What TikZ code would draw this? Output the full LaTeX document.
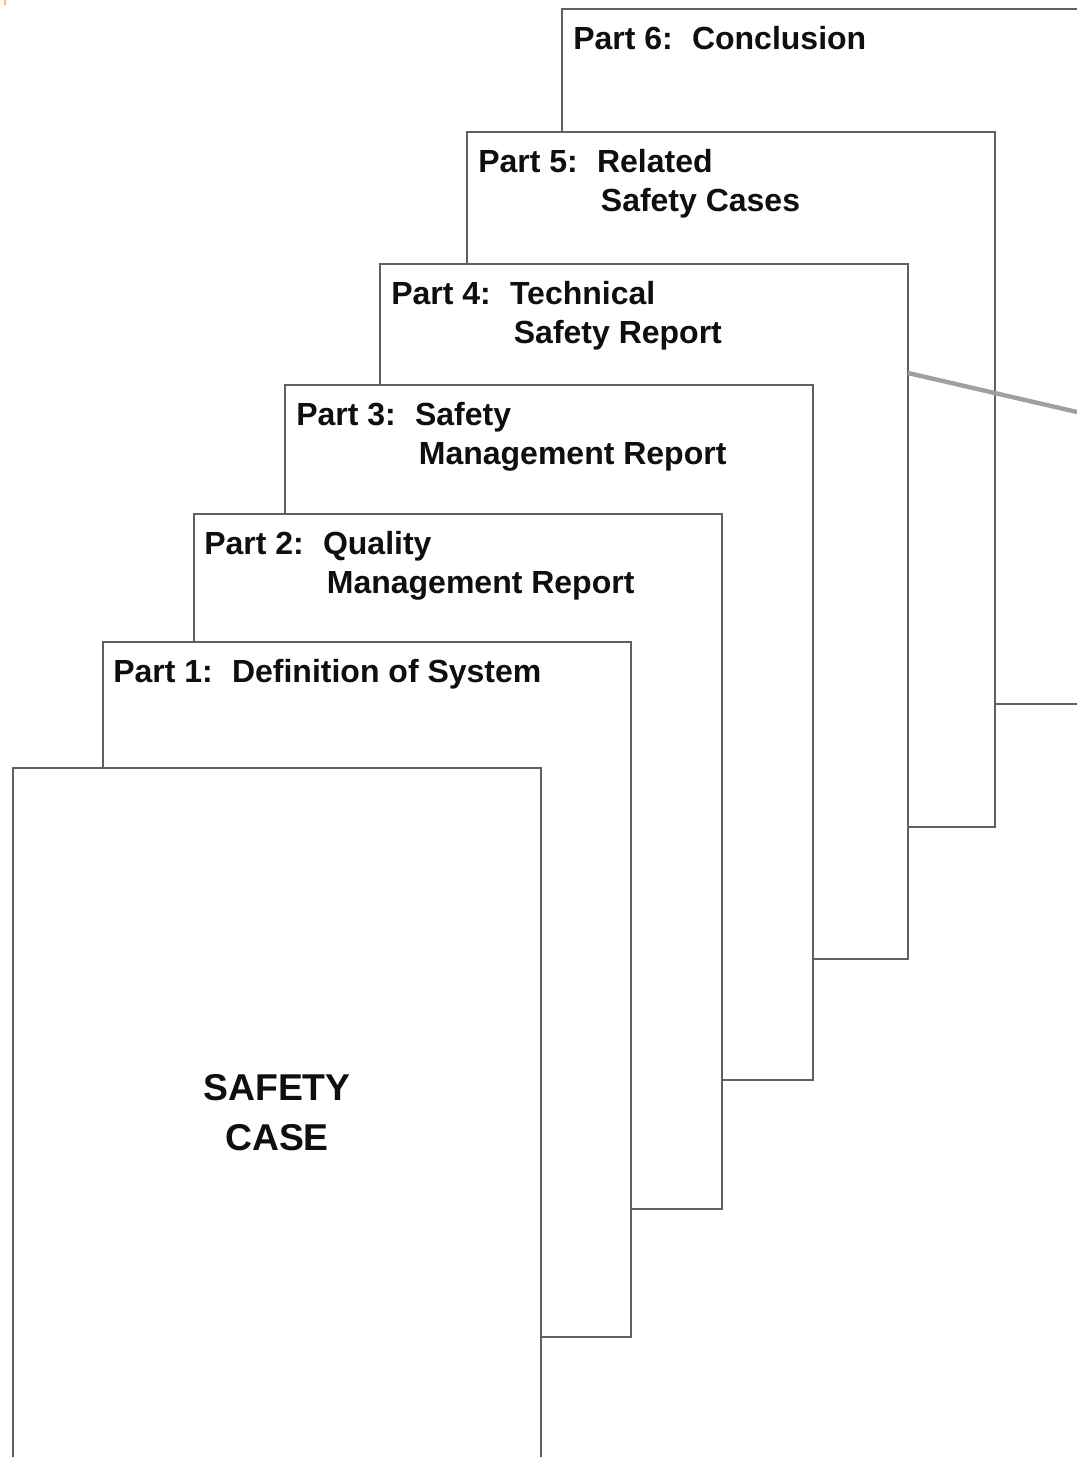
\documentclass[tikz,border=0pt]{standalone}
\usepackage{fontspec}
\setmainfont{Liberation Sans}
\definecolor{edgegray}{RGB}{95,95,95}
\definecolor{linegray}{RGB}{160,160,160}
\definecolor{textblack}{RGB}{15,15,15}
\definecolor{markorange}{RGB}{255,185,110}
\begin{document}
\begin{tikzpicture}[x=0.75pt,y=-0.75pt,
  pagebox/.style={draw=edgegray, line width=1.5pt, fill=white,
    minimum width=396pt, minimum height=521.25pt,
    anchor=north west, inner sep=0pt, outer sep=0pt},
  parttext/.style={anchor=base west, inner sep=0pt, text=textblack,
    font=\bfseries\fontsize{24}{29.25}\selectfont},
  titletext/.style={anchor=center, inner sep=0pt, text=textblack, align=center,
    font=\bfseries\fontsize{28}{37.5}\selectfont}]
\useasboundingbox (0,0) rectangle (1077,1457);
\fill[white] (0,0) rectangle (1077,1457);
\fill[markorange] (4,0) rectangle (6,5);

\newcommand{\parthead}[2]{\begin{tabular}[t]{@{}l@{\hspace{0.6em}}l@{}}#1 & #2\end{tabular}}
\newcommand{\nl}{\\ & \hspace{0.12em}}

% Part 6
\node[pagebox] (p6) at (562,9) {};
\node[parttext] (t6) at (573,49) {\parthead{Part 6:}{Conclusion}};
% Part 5
\node[pagebox] (p5) at (467,132) {};
\node[parttext] (t5) at (478,172) {\parthead{Part 5:}{Related\nl Safety Cases}};
% gray connector line
\coordinate (lineend) at (1090,415);
% Part 4
\node[pagebox] (p4) at (380,264) {};
\draw[linegray, line width=3.3pt] ([yshift=-81.75pt]p4.north east) -- (lineend);
\node[parttext] (t4) at (391,304) {\parthead{Part 4:}{Technical\nl Safety Report}};
% Part 3
\node[pagebox] (p3) at (285,385) {};
\node[parttext] (t3) at (296,425) {\parthead{Part 3:}{Safety\nl Management Report}};
% Part 2
\node[pagebox] (p2) at (194,514) {};
\node[parttext] (t2) at (204,554) {\parthead{Part 2:}{Quality\nl Management Report}};
% Part 1
\node[pagebox] (p1) at (103,642) {};
\node[parttext] (t1) at (113,682) {\parthead{Part 1:}{Definition of System}};
% Safety case
\node[pagebox] (sc) at (13,768) {};
\node[titletext] (sct) at (277,1113) {SAFETY\\CASE};
\end{tikzpicture}
\end{document}
